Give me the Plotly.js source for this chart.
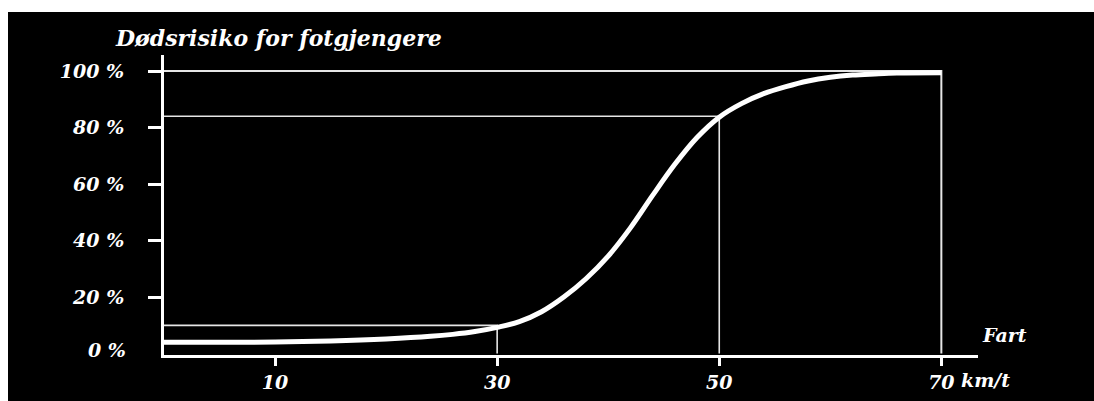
<!DOCTYPE html>
<html>
<head>
<meta charset="utf-8">
<script src="https://cdn.plot.ly/plotly-3.0.1.min.js"></script>
<style>
  html, body { margin: 0; padding: 0; background: #ffffff; width: 1094px; height: 401px; overflow: hidden; }
  #chart { position: absolute; left: 8px; top: 12px; width: 1086px; height: 389px; }
</style>
</head>
<body>
<div id="chart"></div>
<script>
// Speed (km/t) and risk of death for pedestrians (%)
const speeds = [0, 5, 10, 15, 20, 24, 26, 28, 30, 32, 34, 36, 38, 40, 42, 44, 46, 48, 50, 52, 54, 56, 58, 60, 62, 64, 66, 70];
const risk   = [4, 4, 4.1, 4.5, 5.2, 6.1, 6.8, 7.8, 9.3, 11.3, 14.8, 20, 26.5, 34.5, 44.5, 56, 67, 76.5, 83.7, 88.5, 92, 94.5, 96.5, 97.8, 98.6, 99, 99.3, 99.4];

// Reference speeds and corresponding risk levels
const refSpeeds = [30, 50, 70];
const refRisk   = [10, 84, 100];

// Tick labels
const xTickVals  = [10, 30, 50, 70];
const xTickText  = ['10', '30', '50', '70'];
const yTickVals  = [20, 40, 60, 80, 100];
const yTickText  = ['20 %', '40 %', '60 %', '80 %', '100 %'];

const titleText = 'Dødsrisiko for fotgjengere';
const xLabel = 'Fart';
const xUnit = 'km/t';
const zeroLabel = '0 %';

const FONT = 'DejaVu Serif, Liberation Serif, serif';
const lbl = { family: FONT, size: 19, color: '#ffffff', weight: 'bold', style: 'italic' };

const traces = [];
refSpeeds.forEach((s, i) => {
  traces.push({
    x: [0, s, s],
    y: [refRisk[i], refRisk[i], 0],
    mode: 'lines',
    line: { color: '#e6e6e6', width: i === 2 ? 2 : 1.6 },
    hoverinfo: 'skip',
    showlegend: false
  });
});
traces.push({
  x: speeds, y: risk,
  mode: 'lines',
  line: { color: '#ffffff', width: 5, shape: 'spline', smoothing: 1 },
  showlegend: false
});

const layout = {
  width: 1086, height: 389,
  margin: { l: 156, r: 116, t: 43, b: 46, pad: 0 },
  paper_bgcolor: '#000000',
  plot_bgcolor: '#000000',
  showlegend: false,
  xaxis: {
    range: [0, 73.3],
    showgrid: false, zeroline: false,
    showline: true, linecolor: '#ffffff', linewidth: 3,
    ticks: 'outside', ticklen: 8, tickwidth: 3, tickcolor: '#ffffff',
    tickvals: xTickVals, ticktext: xTickText,
    tickfont: lbl,
    ticklabelstandoff: 0
  },
  yaxis: {
    range: [-0.5, 105.7],
    showgrid: false, zeroline: false,
    showline: true, linecolor: '#ffffff', linewidth: 3,
    ticks: 'outside', ticklen: 13, tickwidth: 3, tickcolor: '#ffffff',
    tickvals: yTickVals, ticktext: yTickText,
    tickfont: lbl,
    ticklabelstandoff: 20
  },
  annotations: [
    { text: titleText, xref: 'paper', yref: 'paper', x: -0.0627, y: 1.057,
      xanchor: 'left', yanchor: 'middle', showarrow: false,
      font: { family: FONT, size: 22, color: '#ffffff', weight: 'bold', style: 'italic' } },
    { text: zeroLabel, xref: 'paper', yref: 'y', x: -0.0442, y: 1.2,
      xanchor: 'right', yanchor: 'middle', showarrow: false, font: lbl },
    { text: xLabel, xref: 'paper', yref: 'paper', x: 1.003, y: 0.067,
      xanchor: 'left', yanchor: 'middle', showarrow: false, font: lbl },
    { text: xUnit, xref: 'x', yref: 'paper', x: 70, y: 0, xshift: 18, yshift: -25,
      xanchor: 'left', yanchor: 'middle', showarrow: false, font: lbl }
  ]
};

Plotly.newPlot('chart', traces, layout, { displayModeBar: false, staticPlot: true });
</script>
</body>
</html>
